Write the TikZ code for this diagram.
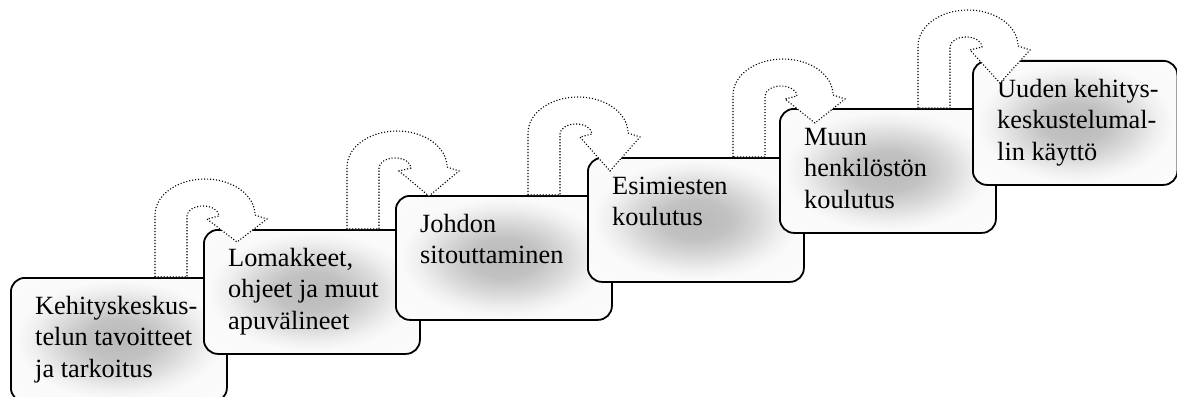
\documentclass[tikz,border=0pt]{standalone}
\usepackage{fontspec}
\setmainfont{Liberation Serif}
\pgfdeclareradialshading{blob}{\pgfpoint{0bp}{0bp}}{color(0bp)=(black!27); color(8bp)=(black!24); color(15bp)=(black!14); color(20bp)=(black!6); color(24bp)=(black!2); color(50bp)=(black!1)}
\tikzset{
  boxst/.style={draw=black, line width=1.8pt, rounded corners=14pt, shade, shading=blob,
    minimum width=216pt, minimum height=124pt, anchor=north west, inner sep=0pt},
  txt/.style={anchor=base west, inner sep=0pt, font=\fontsize{26.3}{31.5}\selectfont},
  arrowst/.style={fill=white, draw=black, line width=1.1pt, dash pattern=on 1.1pt off 1.9pt},
  pics/uturn/.style={code={
    \filldraw[arrowst, yscale=-1] (0,0) -- (0,62)
      arc[start angle=180, end angle=0, x radius=50, y radius=36]
      -- (112,58) -- (82,#1) -- (52,58) -- (64,61)
      arc[start angle=0, end angle=180, x radius=16, y radius=10]
      -- (32,0) -- cycle;
  }}
}
\begin{document}
\begin{tikzpicture}[x=1pt, y=-1pt]
\useasboundingbox (0,0) rectangle (1177,396);
% box 1
\node[boxst] (b1) at (10,277) {};
\node[txt] (t1) at ([shift={(25,37)}]b1.north west) {\begin{tabular}[t]{@{}l@{}}Kehityskeskus-\\telun tavoitteet\\ja tarkoitus\end{tabular}};
% box 2
\node[boxst] (b2) at (203,229) {};
\node[txt] (t2) at ([shift={(25,37)}]b2.north west) {\begin{tabular}[t]{@{}l@{}}Lomakkeet,\\ohjeet ja muut\\apuvälineet\end{tabular}};
\coordinate (a1) at (155,277);
\pic at (a1) {uturn=35};
% box 3
\node[boxst] (b3) at (395,195) {};
\node[txt] (t3) at ([shift={(25,37)}]b3.north west) {\begin{tabular}[t]{@{}l@{}}Johdon\\sitouttaminen\end{tabular}};
\coordinate (a2) at (347,229);
\pic at (a2) {uturn=33};
% box 4
\node[boxst] (b4) at (587,157) {};
\node[txt] (t4) at ([shift={(25,37)}]b4.north west) {\begin{tabular}[t]{@{}l@{}}Esimiesten\\koulutus\end{tabular}};
\coordinate (a3) at (528,195);
\pic at (a3) {uturn=24};
% box 5
\node[boxst] (b5) at (779,108) {};
\node[txt] (t5) at ([shift={(25,37)}]b5.north west) {\begin{tabular}[t]{@{}l@{}}Muun\\henkilöstön\\koulutus\end{tabular}};
\coordinate (a4) at (733,157);
\pic at (a4) {uturn=34};
% box 6
\node[boxst, minimum width=204.5pt] (b6) at (972,60) {};
\node[txt] (t6) at ([shift={(25,37)}]b6.north west) {\begin{tabular}[t]{@{}l@{}}Uuden kehitys-\\keskustelumal-\\lin käyttö\end{tabular}};
\coordinate (a5) at (918,108);
\pic at (a5) {uturn=25};
\end{tikzpicture}
\end{document}
